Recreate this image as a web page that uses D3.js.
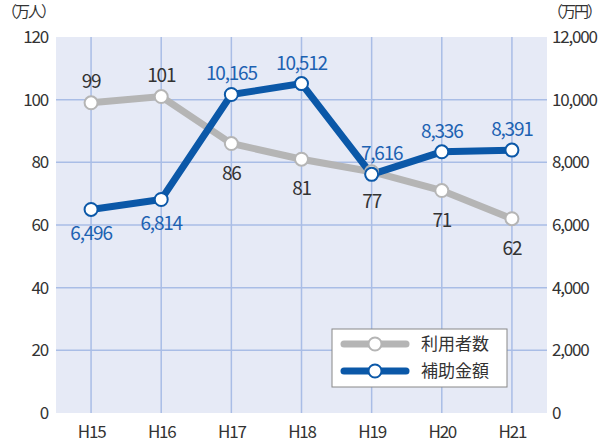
<!DOCTYPE html>
<html>
<head>
<meta charset="utf-8">
<script src="https://cdn.jsdelivr.net/npm/d3@7"></script>
<style>
  body { margin: 0; background: #fff; }
  text { font-family: "Noto Sans CJK JP", "Noto Sans", sans-serif; }
</style>
</head>
<body>
<div id="chart"></div>
<script>
// data
const years = ["H15", "H16", "H17", "H18", "H19", "H20", "H21"];
const users = [99, 101, 86, 81, 77, 71, 62];              // 利用者数 (万人)
const subsidy = [6496, 6814, 10165, 10512, 7616, 8336, 8391]; // 補助金額 (万円)
const leftTicks = [0, 20, 40, 60, 80, 100, 120];
const rightTicks = [0, 2000, 4000, 6000, 8000, 10000, 12000];
const seriesNames = ["利用者数", "補助金額"];

let width = 604, height = 446;
let margin = { top: 37, bottom: 33, left: 56, right: 57 };

const grayColor = "#b5b5b5", blueColor = "#0b58a8", blueText = "#1d62b2";

let svg = d3.select("#chart")
    .append("svg")
    .attr("width", width)
    .attr("height", height);

let xScale = d3.scalePoint()
    .domain(years)
    .range([margin.left, width - margin.right])
    .padding(0.5);

let yLeft = d3.scaleLinear()
    .domain([0, 120])
    .range([height - margin.bottom, margin.top]);

let yRight = d3.scaleLinear()
    .domain([0, 12000])
    .range([height - margin.bottom, margin.top]);

// plot background
svg.append("rect")
    .attr("x", margin.left)
    .attr("y", margin.top)
    .attr("width", width - margin.left - margin.right)
    .attr("height", height - margin.top - margin.bottom)
    .attr("fill", "#e6eaf6");

// grid
svg.append("g")
    .selectAll("line")
    .data(leftTicks.slice(1, -1))
    .enter().append("line")
    .attr("x1", margin.left)
    .attr("x2", width - margin.right)
    .attr("y1", d => yLeft(d))
    .attr("y2", d => yLeft(d))
    .attr("stroke", "#a9bde6")
    .attr("stroke-width", 1.5);

svg.append("g")
    .selectAll("line")
    .data(years)
    .enter().append("line")
    .attr("x1", d => xScale(d))
    .attr("x2", d => xScale(d))
    .attr("y1", margin.top)
    .attr("y2", height - margin.bottom)
    .attr("stroke", "#a9bde6")
    .attr("stroke-width", 1.5);

// axes
let leftAxis = svg.append("g")
    .attr("transform", `translate(${margin.left - 6},0)`)
    .call(d3.axisLeft(yLeft).tickValues(leftTicks).tickSize(0).tickPadding(2));

let rightAxis = svg.append("g")
    .attr("transform", `translate(${width - margin.right + 5},0)`)
    .call(d3.axisRight(yRight).tickValues(rightTicks).tickSize(0).tickPadding(0)
        .tickFormat(d3.format(",")));

let bottomAxis = svg.append("g")
    .attr("transform", `translate(0,${height - margin.bottom + 10})`)
    .call(d3.axisBottom(xScale).tickSize(0).tickPadding(3));

[leftAxis, rightAxis, bottomAxis].forEach(a => {
    a.select(".domain").remove();
    a.selectAll("text")
        .attr("fill", "#333")
        .style("font-size", "17px")
        .style("letter-spacing", "-1.2px");
});

// unit labels
svg.append("text")
    .attr("x", 2).attr("y", 17)
    .text("（万人）")
    .attr("fill", "#333")
    .style("font-size", "15px")
    .style("letter-spacing", "-2px");

svg.append("text")
    .attr("x", 548).attr("y", 17)
    .text("（万円）")
    .attr("fill", "#333")
    .style("font-size", "15px")
    .style("letter-spacing", "-2px");

// lines
const lineUsers = d3.line().x((d, i) => xScale(years[i])).y(d => yLeft(d));
const lineSubsidy = d3.line().x((d, i) => xScale(years[i])).y(d => yRight(d));

svg.append("path")
    .datum(users)
    .attr("d", lineUsers)
    .attr("fill", "none")
    .attr("stroke", grayColor)
    .attr("stroke-width", 7);

svg.append("path")
    .datum(subsidy)
    .attr("d", lineSubsidy)
    .attr("fill", "none")
    .attr("stroke", blueColor)
    .attr("stroke-width", 7);

svg.append("g")
    .selectAll("circle")
    .data(users)
    .enter().append("circle")
    .attr("cx", (d, i) => xScale(years[i]))
    .attr("cy", d => yLeft(d))
    .attr("r", 6.5)
    .attr("fill", "#fff")
    .attr("stroke", grayColor)
    .attr("stroke-width", 2);

svg.append("g")
    .selectAll("circle")
    .data(subsidy)
    .enter().append("circle")
    .attr("cx", (d, i) => xScale(years[i]))
    .attr("cy", d => yRight(d))
    .attr("r", 6.5)
    .attr("fill", "#fff")
    .attr("stroke", blueColor)
    .attr("stroke-width", 2);

// value labels (first two gray above, rest below; blue the opposite)
svg.append("g")
    .selectAll("text")
    .data(users)
    .enter().append("text")
    .attr("x", (d, i) => xScale(years[i]))
    .attr("y", (d, i) => yLeft(d) + (i < 2 ? -15 : 36))
    .attr("text-anchor", "middle")
    .attr("fill", "#333")
    .style("font-size", "19px")
    .style("letter-spacing", "-1.2px")
    .text(d => d);

svg.append("g")
    .selectAll("text")
    .data(subsidy)
    .enter().append("text")
    .attr("x", (d, i) => xScale(years[i]) + (i == 4 ? 10 : 0))
    .attr("y", (d, i) => yRight(d) + (i < 2 ? 31 : -14))
    .attr("text-anchor", "middle")
    .attr("fill", blueText)
    .style("font-size", "19px")
    .style("letter-spacing", "-1.2px")
    .text(d => d3.format(",")(d));

// legend
const legend = svg.append("g").attr("transform", "translate(332,329)");

legend.append("rect")
    .attr("width", 175).attr("height", 58)
    .attr("fill", "#fff")
    .attr("stroke", "#888")
    .attr("stroke-width", 1);

const legendItems = legend.selectAll(".item")
    .data(seriesNames)
    .enter().append("g")
    .attr("transform", (d, i) => `translate(0,${15 + i * 27})`);

legendItems.append("line")
    .attr("x1", 12).attr("x2", 74)
    .attr("stroke", (d, i) => i == 0 ? grayColor : blueColor)
    .attr("stroke-width", 7)
    .attr("stroke-linecap", "round");

legendItems.append("circle")
    .attr("cx", 43).attr("r", 6.5)
    .attr("fill", "#fff")
    .attr("stroke", (d, i) => i == 0 ? grayColor : blueColor)
    .attr("stroke-width", 2);

legendItems.append("text")
    .attr("x", 89).attr("y", 6)
    .attr("fill", "#333")
    .style("font-size", "17px")
    .text(d => d);
</script>
</body>
</html>
